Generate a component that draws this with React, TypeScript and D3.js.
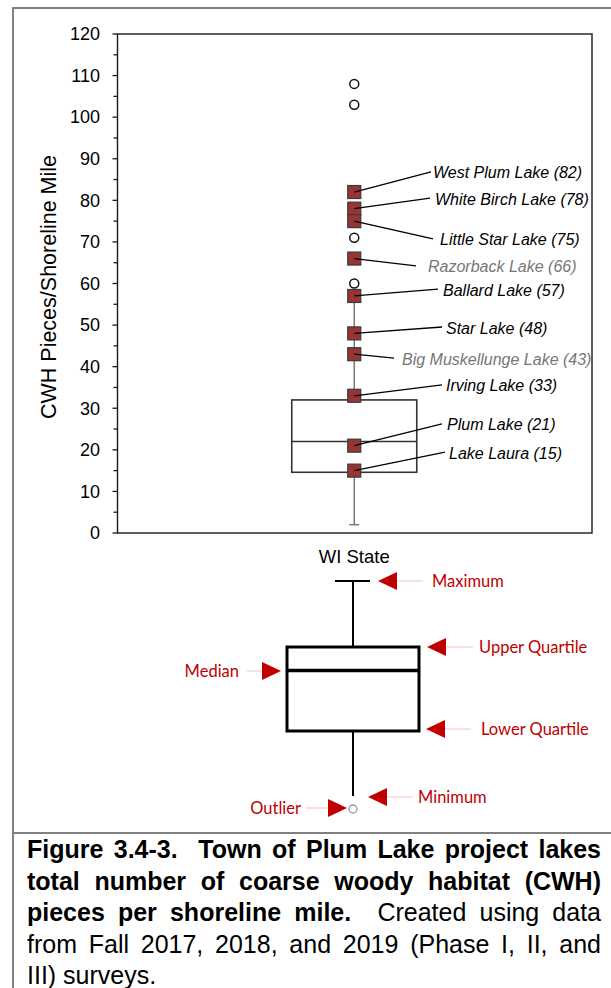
import React, { useMemo } from "react";
import * as d3 from "d3";

// ---------- data ----------
const categories = ["WI State"];
// box summary: min, lower quartile, median, upper quartile, max (whisker)
const boxSummary = [2, 14.6, 22, 32, 58];
const outlierValues = [108, 103, 71, 60];
const lakeNames = [
  "West Plum Lake",
  "White Birch Lake",
  "Little Star Lake",
  "Razorback Lake",
  "Ballard Lake",
  "Star Lake",
  "Big Muskellunge Lake",
  "Irving Lake",
  "Plum Lake",
  "Lake Laura",
];
const lakeValues = [82, 78, 75, 66, 57, 48, 43, 33, 21, 15];
const lakeMuted = [false, false, false, true, false, false, true, false, false, false];
const yTickValues = [0, 10, 20, 30, 40, 50, 60, 70, 80, 90, 100, 110, 120];
const yMinorTickValues = [5, 15, 25, 35, 45, 55, 65, 75, 85, 95, 105, 115];

// label layout (value units for vertical placement, px for horizontal)
const labelYValues = [86.6, 80.3, 70.5, 64.0, 58.4, 49.3, 41.8, 35.4, 26.0, 19.2];
const labelXs = [433, 435, 440, 428, 443, 446, 402, 446, 447, 449];
const leaderEndXs = [431, 430, 433, 416, 438, 442, 394, 442, 442, 445];

const captionLines = [
  [{ t: "Figure 3.4-3.  Town of Plum Lake project lakes", b: true }],
  [{ t: "total number of coarse woody habitat (CWH)", b: true }],
  [
    { t: "pieces per shoreline mile.", b: true },
    { t: "  Created using data", b: false },
  ],
  [{ t: "from Fall 2017, 2018, and 2019 (Phase I, II, and", b: false }],
  [{ t: "III) surveys.", b: false }],
];

const W = 611;
const H = 988;
const FONT = "Arial, 'Liberation Sans', sans-serif";
const LEG_FONT = "Lato, 'Open Sans', sans-serif";
const RED = "#C00000";

function Caption() {
  const x0 = 27;
  const width = 574;
  const fs = 25;
  const lineH = 31.5;
  const base0 = 858;
  const spacings = useMemo(() => {
    const canvas = document.createElement("canvas");
    const ctx = canvas.getContext("2d");
    return captionLines.map((line, i) => {
      if (i === captionLines.length - 1 || !ctx) return 0;
      let total = 0;
      let spaces = 0;
      line.forEach((seg) => {
        ctx.font = `${seg.b ? "bold " : ""}${fs}px 'Liberation Sans', Arial`;
        total += ctx.measureText(seg.t).width;
        spaces += (seg.t.match(/ /g) || []).length;
      });
      return spaces > 0 ? (width - total) / spaces : 0;
    });
  }, []);
  return (
    <g>
      {captionLines.map((line, i) => (
        <text
          key={i}
          x={x0}
          y={base0 + i * lineH}
          fontFamily={FONT}
          fontSize={fs}
          fill="#000"
          style={{ whiteSpace: "pre", wordSpacing: `${spacings[i]}px` }}
        >
          {line.map((seg, j) => (
            <tspan key={j} fontWeight={seg.b ? "bold" : "normal"}>
              {seg.t}
            </tspan>
          ))}
        </text>
      ))}
    </g>
  );
}

function LeftArrow({ tip, y }: { tip: number; y: number }) {
  return <path d={`M${tip},${y} L${tip + 19},${y - 9} L${tip + 19},${y + 9} Z`} fill={RED} />;
}
function RightArrow({ tip, y }: { tip: number; y: number }) {
  return <path d={`M${tip},${y} L${tip - 19},${y - 9} L${tip - 19},${y + 9} Z`} fill={RED} />;
}

function Legend() {
  const cx = 353;
  const pink = "#F2C4C4";
  const items = [
    { label: "Maximum", tip: 378, y: 581, l0: 397, l1: 423, tx: 432 },
    { label: "Upper Quartile", tip: 427, y: 647, l0: 446, l1: 473, tx: 479 },
    { label: "Lower Quartile", tip: 426, y: 729, l0: 445, l1: 471, tx: 481 },
    { label: "Minimum", tip: 368, y: 797, l0: 387, l1: 413, tx: 418 },
  ];
  const leftItems = [
    { label: "Median", tip: 281, y: 671, l0: 247, l1: 262, tx: 239 },
    { label: "Outlier", tip: 347, y: 808, l0: 306, l1: 328, tx: 301 },
  ];
  return (
    <g>
      <line x1={335} x2={370} y1={581} y2={581} stroke="#000" strokeWidth={2} />
      <line x1={cx} x2={cx} y1={581} y2={647} stroke="#000" strokeWidth={2} />
      <rect x={287} y={647} width={132} height={84} fill="none" stroke="#000" strokeWidth={3} />
      <line x1={287} x2={419} y1={670.5} y2={670.5} stroke="#000" strokeWidth={3.5} />
      <line x1={cx} x2={cx} y1={731} y2={796} stroke="#000" strokeWidth={2} />
      <circle cx={cx} cy={809} r={4} fill="#fff" stroke="#999" strokeWidth={1.3} />
      {items.map((d) => (
        <g key={d.label}>
          <line x1={d.l0} x2={d.l1} y1={d.y} y2={d.y} stroke={pink} strokeWidth={1} />
          <LeftArrow tip={d.tip} y={d.y} />
          <text x={d.tx} y={d.y} dy="0.35em" fill={RED} fontFamily={LEG_FONT} fontSize={16.5}>
            {d.label}
          </text>
        </g>
      ))}
      {leftItems.map((d) => (
        <g key={d.label}>
          <line x1={d.l0} x2={d.l1} y1={d.y} y2={d.y} stroke={pink} strokeWidth={1} />
          <RightArrow tip={d.tip} y={d.y} />
          <text
            x={d.tx}
            y={d.y}
            dy="0.35em"
            textAnchor="end"
            fill={RED}
            fontFamily={LEG_FONT}
            fontSize={16.5}
          >
            {d.label}
          </text>
        </g>
      ))}
    </g>
  );
}

export default function App() {
  const left = 117.5;
  const right = 592;
  const top = 34;
  const bottom = 533;
  const y = d3.scaleLinear().domain([0, 120]).range([bottom, top]);
  const x = d3.scalePoint<string>().domain(categories).range([left, right]).padding(0.5);
  const cx = (x(categories[0]) as number) - 0.5;
  const boxW = 125;
  const [mn, q1, med, q3, mx] = boxSummary;
  const sq = 13;

  return (
    <svg
      width={W}
      height={H}
      style={{ position: "absolute", left: 0, top: 0, background: "#fff" }}
    >
      {/* outer frame */}
      <line x1={12} x2={W} y1={8} y2={8} stroke="#808080" strokeWidth={2} />
      <line x1={13} x2={13} y1={8} y2={H} stroke="#808080" strokeWidth={2} />
      <line x1={12} x2={W} y1={833} y2={833} stroke="#808080" strokeWidth={2} />

      {/* plot area border */}
      <rect
        x={left}
        y={top}
        width={right - left}
        height={bottom - top}
        fill="none"
        stroke="#1a1a1a"
        strokeWidth={1.4}
      />

      {/* y ticks */}
      {yTickValues.map((v) => (
        <g key={v}>
          <line x1={left - 5} x2={left} y1={y(v)} y2={y(v)} stroke="#1a1a1a" strokeWidth={1.3} />
          <text
            x={100}
            y={y(v)}
            dy="0.35em"
            textAnchor="end"
            fontFamily={FONT}
            fontSize={18}
            fill="#000"
          >
            {v}
          </text>
        </g>
      ))}
      {yMinorTickValues.map((v) => (
        <line key={v} x1={left - 4} x2={left} y1={y(v)} y2={y(v)} stroke="#1a1a1a" strokeWidth={1.3} />
      ))}

      {/* y title */}
      <text
        transform={`translate(48,287) rotate(-90)`}
        textAnchor="middle"
        dy="0.35em"
        fontFamily={FONT}
        fontSize={21.5}
        fill="#000"
      >
        CWH Pieces/Shoreline Mile
      </text>

      {/* x category */}
      <text x={cx} y={557} dy="0.35em" textAnchor="middle" fontFamily={FONT} fontSize={18.5} fill="#000">
        {categories[0]}
      </text>

      {/* whiskers */}
      <line x1={cx} x2={cx} y1={y(mn)} y2={y(q1)} stroke="#7a7a7a" strokeWidth={1.5} />
      <line x1={cx} x2={cx} y1={y(q3)} y2={y(mx)} stroke="#7a7a7a" strokeWidth={1.5} />
      <line x1={cx - 5} x2={cx + 5} y1={y(mn)} y2={y(mn)} stroke="#7a7a7a" strokeWidth={1.5} />
      <line x1={cx - 5} x2={cx + 5} y1={y(mx)} y2={y(mx)} stroke="#7a7a7a" strokeWidth={1.5} />

      {/* box */}
      <rect
        x={cx - boxW / 2}
        y={y(q3)}
        width={boxW}
        height={y(q1) - y(q3)}
        fill="none"
        stroke="#333"
        strokeWidth={1.6}
      />
      <line
        x1={cx - boxW / 2}
        x2={cx + boxW / 2}
        y1={y(med)}
        y2={y(med)}
        stroke="#333"
        strokeWidth={1.6}
      />

      {/* outliers */}
      {outlierValues.map((v, i) => (
        <circle key={i} cx={cx} cy={y(v)} r={4.5} fill="#fff" stroke="#111" strokeWidth={1.5} />
      ))}

      {/* lake squares */}
      {lakeValues.map((v, i) => (
        <rect
          key={i}
          x={cx - sq / 2}
          y={y(v) - sq / 2}
          width={sq}
          height={sq}
          fill="#983434"
          stroke="#3a3a3a"
          strokeWidth={1.2}
        />
      ))}

      {/* leader lines and labels */}
      {lakeValues.map((v, i) => (
        <g key={i}>
          <line
            x1={cx}
            y1={y(v)}
            x2={leaderEndXs[i]}
            y2={y(labelYValues[i]) - 1}
            stroke="#000"
            strokeWidth={1.3}
          />
          <text
            x={labelXs[i]}
            y={y(labelYValues[i])}
            dy="0.35em"
            fontFamily={FONT}
            fontStyle="italic"
            fontSize={16}
            fill={lakeMuted[i] ? "#767676" : "#000"}
          >
            {`${lakeNames[i]} (${v})`}
          </text>
        </g>
      ))}

      <Legend />
      <Caption />
    </svg>
  );
}
